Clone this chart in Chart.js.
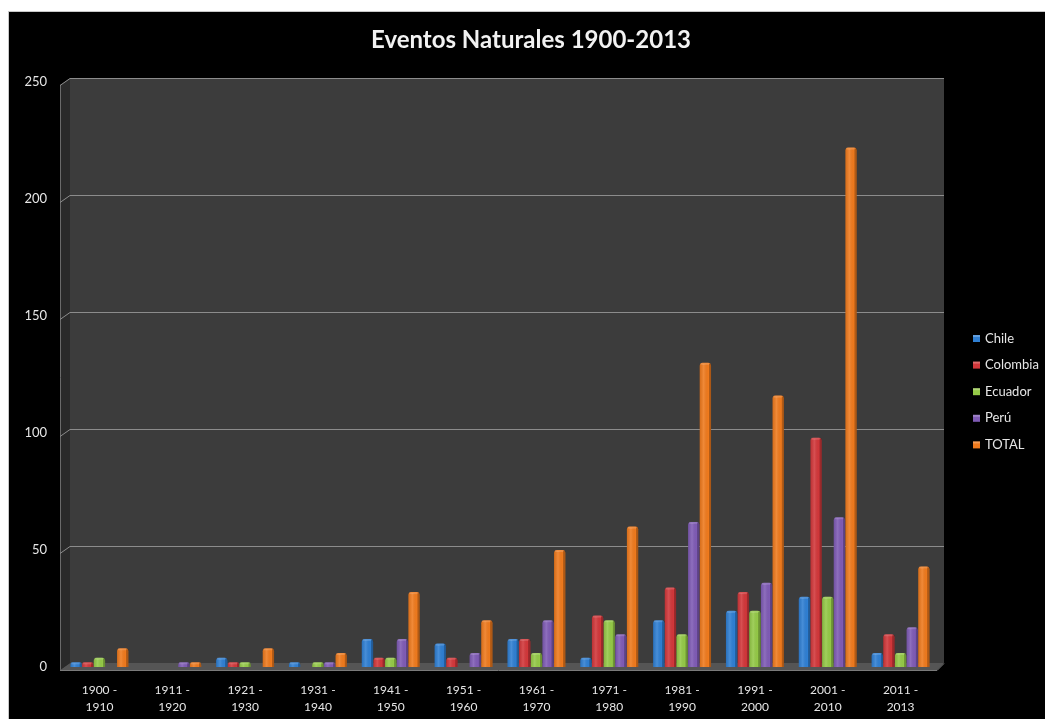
<!DOCTYPE html>
<html>
<head>
<meta charset="utf-8">
<title>Eventos Naturales 1900-2013</title>
<script src="https://cdn.jsdelivr.net/npm/chart.js@4.4.1/dist/chart.umd.min.js"></script>
<style>
  html, body { margin: 0; padding: 0; background: #ffffff; }
  #wrap { position: relative; width: 1045px; height: 719px; }
  canvas { display: block; }
</style>
</head>
<body>
<div id="wrap"><canvas id="chart" width="1045" height="719"></canvas></div>
<script>
// Decades on the x axis (two-line labels)
const categories = [
  ["1900 -", "1910"], ["1911 -", "1920"], ["1921 -", "1930"], ["1931 -", "1940"],
  ["1941 -", "1950"], ["1951 -", "1960"], ["1961 -", "1970"], ["1971 -", "1980"],
  ["1981 -", "1990"], ["1991 -", "2000"], ["2001 -", "2010"], ["2011 -", "2013"]
];

// Number of natural events per country and decade
const chile    = [2, 0, 4, 2, 12, 10, 12, 4, 20, 24, 30, 6];
const colombia = [2, 0, 2, 0, 4, 4, 12, 22, 34, 32, 98, 14];
const ecuador  = [4, 0, 2, 2, 4, 0, 6, 20, 14, 24, 30, 6];
const peru     = [0, 2, 0, 2, 12, 6, 20, 14, 62, 36, 64, 17];
const total    = [8, 2, 8, 6, 32, 20, 50, 60, 130, 116, 222, 43];

const seriesNames = ["Chile", "Colombia", "Ecuador", "Perú", "TOTAL"];
const seriesColors = ["#2f7fd3", "#d2373a", "#94c947", "#7f5bb5", "#ef7a1d"];

const yTicks = [0, 50, 100, 150, 200, 250];

const FONT = "Lato, 'Open Sans', 'DejaVu Sans', sans-serif";

// depth of the pseudo-3D box
const DX = 7, DY_BACK = -4, DY_FRONT = 3, SIDE_X = -3;

const framePlugin = {
  id: "frame",
  beforeDraw(chart) {
    const c = chart.ctx;
    c.save();
    c.fillStyle = "#ffffff";
    c.fillRect(0, 0, chart.width, chart.height);
    c.fillStyle = "#c8c8c8";
    c.fillRect(8, 11, chart.width - 8, 1);
    c.fillRect(8, 11, 1, chart.height - 11);
    c.fillStyle = "#000000";
    c.fillRect(9, 12, chart.width - 9, chart.height - 12);
    c.restore();
  },
  beforeDatasetsDraw(chart) {
    const c = chart.ctx;
    const a = chart.chartArea;
    const ys = chart.scales.y;
    const yTop = ys.getPixelForValue(250);
    const yBot = ys.getPixelForValue(0);
    const L = a.left, R = a.right;
    c.save();
    // back wall
    c.fillStyle = "#3c3c3c";
    c.fillRect(L + DX, yTop + DY_BACK, (R - L), yBot - yTop);
    // side wall
    c.fillStyle = "#2a2a2a";
    c.beginPath();
    c.moveTo(L + SIDE_X, yTop + DY_FRONT);
    c.lineTo(L + DX, yTop + DY_BACK);
    c.lineTo(L + DX, yBot + DY_BACK);
    c.lineTo(L + SIDE_X, yBot + DY_FRONT);
    c.closePath();
    c.fill();
    c.strokeStyle = "#6a6a6a";
    c.lineWidth = 1;
    c.beginPath();
    c.moveTo(L + SIDE_X + 0.5, yTop + DY_FRONT);
    c.lineTo(L + SIDE_X + 0.5, yBot + DY_FRONT);
    c.stroke();
    // floor
    c.fillStyle = "#555555";
    c.beginPath();
    c.moveTo(L + SIDE_X, yBot + DY_FRONT);
    c.lineTo(L + DX, yBot + DY_BACK);
    c.lineTo(R + DX, yBot + DY_BACK);
    c.lineTo(R, yBot + DY_FRONT);
    c.closePath();
    c.fill();
    c.strokeStyle = "#7a7a7a";
    c.beginPath();
    c.moveTo(L + SIDE_X, yBot + DY_FRONT + 0.5);
    c.lineTo(R, yBot + DY_FRONT + 0.5);
    c.lineTo(R + DX, yBot + DY_BACK + 0.5);
    c.stroke();
    // grid lines
    c.strokeStyle = "#8c8c8c";
    yTicks.forEach(v => {
      if (v === 0) return;
      const yf = ys.getPixelForValue(v);
      c.beginPath();
      c.moveTo(L + SIDE_X, yf + DY_FRONT + 0.5);
      c.lineTo(L + DX, yf + DY_BACK + 0.5);
      c.lineTo(R + DX, yf + DY_BACK + 0.5);
      c.stroke();
    });
    c.restore();
  },
  afterDatasetsDraw(chart) {
    // shading that gives every bar its rounded, lit look
    const c = chart.ctx;
    chart.data.datasets.forEach((ds, di) => {
      const meta = chart.getDatasetMeta(di);
      meta.data.forEach(el => {
        const p = el.getProps(["x", "y", "base", "width"], true);
        const h = p.base - p.y;
        if (h < 0.5) return;
        const l = p.x - p.width / 2;
        const g = c.createLinearGradient(l, 0, l + p.width, 0);
        g.addColorStop(0, "rgba(0,0,0,0.10)");
        g.addColorStop(0.35, "rgba(255,255,255,0.12)");
        g.addColorStop(0.78, "rgba(0,0,0,0)");
        g.addColorStop(0.82, "rgba(0,0,0,0.24)");
        g.addColorStop(1, "rgba(0,0,0,0.30)");
        c.save();
        c.fillStyle = g;
        c.fillRect(l, p.y + 1, p.width, h - 1);
        c.fillStyle = "rgba(255,255,255,0.16)";
        c.fillRect(l + 1, p.y, p.width - 3, Math.min(2, h));
        c.restore();
      });
    });
  },
  afterDraw(chart) {
    // series key on the right
    const c = chart.ctx;
    c.save();
    c.font = "13px " + FONT;
    c.textBaseline = "middle";
    c.textAlign = "left";
    chart.data.datasets.forEach((ds, i) => {
      const y = 338 + i * 26.6;
      c.fillStyle = ds.backgroundColor;
      c.fillRect(973, y - 3, 7, 7);
      c.fillStyle = "rgba(255,255,255,0.25)";
      c.fillRect(973, y - 3, 7, 2);
      c.fillStyle = "#e6e6e6";
      c.fillText(ds.label, 985, y + 0.5);
    });
    c.restore();
  }
};

const datasets = [chile, colombia, ecuador, peru, total].map((vals, i) => ({
  label: seriesNames[i],
  data: vals,
  backgroundColor: seriesColors[i],
  borderWidth: 0,
  borderRadius: { topLeft: 3, topRight: 3, bottomLeft: 0, bottomRight: 0 },
  borderSkipped: "bottom",
  categoryPercentage: 0.8,
  barPercentage: 0.97,
  yAxisID: "y"
}));

new Chart(document.getElementById("chart"), {
  type: "bar",
  data: { labels: categories, datasets },
  options: {
    responsive: false,
    animation: false,
    layout: { padding: { left: 17, right: 0, top: 12, bottom: 0 } },
    plugins: {
      legend: { display: false },
      tooltip: { enabled: false },
      title: {
        display: true,
        text: "Eventos Naturales 1900-2013",
        color: "#f2f2f2",
        font: { family: FONT, size: 24, weight: "bold", lineHeight: 1.2 },
        padding: { top: 13.6, bottom: 27.6 }
      }
    },
    scales: {
      x: {
        grid: { display: false, drawTicks: false },
        border: { display: false },
        ticks: {
          color: "#e6e6e6",
          font: { family: FONT, size: 12, lineHeight: 1.45 },
          padding: 14,
          maxRotation: 0,
          autoSkip: false
        },
        afterFit(scale) { scale.height = 52; }
      },
      y: {
        position: "left",
        min: 0,
        max: 250,
        grid: { display: false, drawTicks: false },
        border: { display: false },
        ticks: {
          stepSize: 50,
          color: "#e6e6e6",
          font: { family: FONT, size: 13 },
          padding: 16
        },
        afterFit(scale) { scale.width = 46; }
      },
      // empty strip on the right that holds the series key
      keySpace: {
        position: "right",
        min: 0,
        max: 250,
        grid: { display: false, drawTicks: false },
        border: { display: false },
        ticks: { display: false },
        afterFit(scale) { scale.width = 108; }
      }
    }
  },
  plugins: [framePlugin]
});
</script>
</body>
</html>
